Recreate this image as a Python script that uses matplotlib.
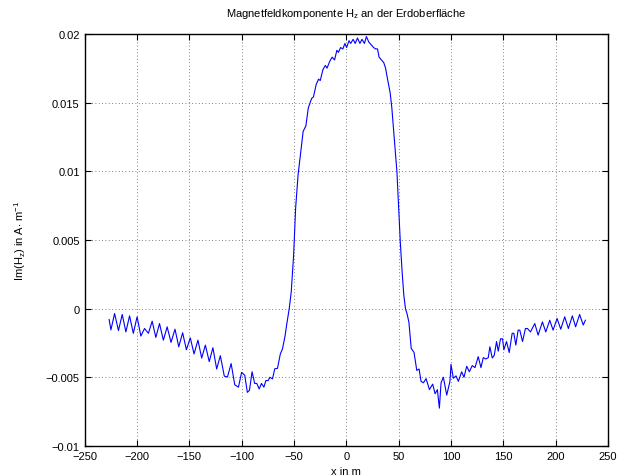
import matplotlib
matplotlib.use("Agg")
import matplotlib.pyplot as plt
import numpy as np

# x positions (m) and Im(Hz) values (in 1e-3 A/m)
x_m = [
    -226.5, -224.8, -221.3, -217.6, -214.0, -210.5, -207.0, -203.4, -199.8, -196.2,
    -192.7, -189.0, -185.4, -181.9, -178.4, -174.7, -171.1, -167.4, -163.6, -160.0,
    -156.3, -152.7, -149.0, -145.4, -141.7, -138.1, -134.6, -130.9, -127.4, -123.8,
    -120.3, -116.5, -113.5, -110.0, -106.5, -103.0, -100.0, -97.0, -94.5, -92.5,
    -90.0, -87.5, -85.5, -83.2, -81.0, -78.7, -76.8, -74.6, -73.0, -70.5,
    -68.3, -65.7, -63.0, -61.0, -58.5, -57.0, -54.5, -52.6, -50.3, -48.4,
    -46.1, -43.8, -41.2, -38.6, -36.3, -33.1, -31.4, -28.8, -26.5, -24.9,
    -22.3, -20.0, -18.4, -15.8, -13.5, -11.2, -9.0, -7.5, -5.5, -3.3,
    -1.3, 0.3, 2.6, 4.2, 6.5, 8.5, 10.7, 13.0, 15.0, 17.3,
    19.2, 21.5, 23.8, 26.1, 28.0, 29.8, 31.3, 33.5, 35.8, 37.5,
    39.4, 41.9, 43.5, 45.8, 48.4, 50.0, 51.6, 53.3, 54.9, 56.5,
    58.1, 59.8, 62.0, 64.7, 67.3, 69.5, 71.4, 73.7, 76.2, 79.4,
    82.5, 84.8, 87.0, 88.9, 90.5, 92.7, 95.9, 99.0, 100.0, 102.2,
    104.8, 107.0, 110.2, 112.4, 115.0, 117.5, 120.3, 122.9, 126.0, 128.6,
    130.8, 133.3, 135.6, 137.1, 139.4, 141.3, 143.5, 145.1, 147.3, 149.2,
    150.5, 153.0, 155.6, 158.4, 160.0, 161.9, 164.1, 165.7, 168.3, 171.1,
    173.0, 175.9, 180.0, 183.2, 187.3, 190.5, 194.3, 197.5, 201.3, 204.8,
    208.6, 212.1, 215.9, 219.0, 222.8, 226.3, 228.3,
]
hz_milli = [
    -0.80, -1.55, -0.36, -1.60, -0.43, -1.70, -0.53, -1.80, -0.60, -2.00,
    -1.45, -1.80, -0.92, -2.10, -1.09, -2.30, -1.33, -2.46, -1.50, -2.78,
    -1.76, -3.00, -2.13, -3.30, -2.30, -3.60, -2.66, -3.86, -2.85, -4.40,
    -3.43, -4.92, -4.98, -4.00, -5.55, -5.72, -4.65, -4.85, -6.10, -5.95,
    -4.60, -5.45, -5.45, -5.85, -5.45, -5.72, -5.24, -5.24, -5.00, -5.12,
    -4.38, -4.35, -3.30, -2.95, -2.00, -1.20, 0.00, 1.20, 3.90, 7.30,
    9.70, 11.20, 12.90, 13.30, 14.60, 15.30, 15.40, 16.30, 16.70, 16.60,
    17.40, 17.70, 17.50, 18.00, 18.30, 18.10, 18.80, 18.65, 19.00, 18.90,
    19.30, 19.00, 19.50, 19.30, 19.60, 19.30, 19.70, 19.30, 19.60, 19.30,
    19.80, 19.40, 19.20, 19.00, 18.90, 18.90, 18.30, 18.10, 17.90, 17.50,
    16.70, 15.70, 14.60, 12.40, 9.90, 7.30, 4.80, 2.70, 1.00, 0.00,
    -0.40, -1.00, -2.90, -3.20, -4.50, -4.40, -5.30, -5.40, -5.10, -5.90,
    -5.50, -6.20, -5.90, -7.25, -5.40, -5.00, -6.30, -5.30, -4.06, -5.07,
    -4.90, -5.30, -4.60, -5.00, -4.20, -4.60, -4.15, -4.30, -3.50, -4.30,
    -3.57, -3.67, -3.57, -2.78, -3.60, -3.40, -2.40, -3.10, -2.20, -2.20,
    -3.00, -2.40, -3.20, -1.80, -1.80, -2.66, -1.57, -1.57, -2.40, -1.45,
    -1.45, -1.70, -1.09, -1.93, -0.97, -1.70, -0.85, -1.57, -0.72, -1.50,
    -0.60, -1.45, -0.53, -1.33, -0.43, -1.20, -0.85,
]

x_ticks = [-250, -200, -150, -100, -50, 0, 50, 100, 150, 200, 250]
y_ticks = [-0.01, -0.005, 0, 0.005, 0.01, 0.015, 0.02]
y_tick_labels = ["\u22120.01", "\u22120.005", "0", "0.005", "0.01", "0.015", "0.02"]
x_tick_labels = ["\u2212250", "\u2212200", "\u2212150", "\u2212100", "\u221250", "0",
                 "50", "100", "150", "200", "250"]

plt.rcParams["font.family"] = ["Liberation Sans", "DejaVu Sans"]
plt.rcParams["mathtext.fontset"] = "custom"
plt.rcParams["mathtext.rm"] = "Liberation Sans"
plt.rcParams["mathtext.it"] = "Liberation Sans"
plt.rcParams["mathtext.bf"] = "Liberation Sans"

fig = plt.figure(figsize=(6.22, 4.77), dpi=100)
ax = fig.add_axes([0.1359, 0.063, 0.8417, 0.864])

y_vals = np.array(hz_milli) * 1e-3
ax.plot(x_m, y_vals, color="#0000ff", linewidth=0.8)

ax.set_xlim(-250, 250)
ax.set_ylim(-0.01, 0.02)
ax.set_xticks(x_ticks)
ax.set_xticklabels(x_tick_labels)
ax.set_yticks(y_ticks)
ax.set_yticklabels(y_tick_labels)
ax.tick_params(direction="in", top=True, right=True, labelsize=8, length=4, width=0.8)
ax.grid(True, color="#555555", linestyle=(0, (1, 3)), linewidth=0.6)
for s in ax.spines.values():
    s.set_linewidth(1.0)

ax.set_title("Magnetfeldkomponente H$_z$ an der Erdoberfläche", fontsize=8, pad=13)
ax.set_xlabel("x in m", fontsize=8, labelpad=4)
ax.set_ylabel("Im(H$_z$) in A$\\cdot$ m$^{-1}$", fontsize=8, labelpad=13)

fig.savefig("out.png", dpi=100)
